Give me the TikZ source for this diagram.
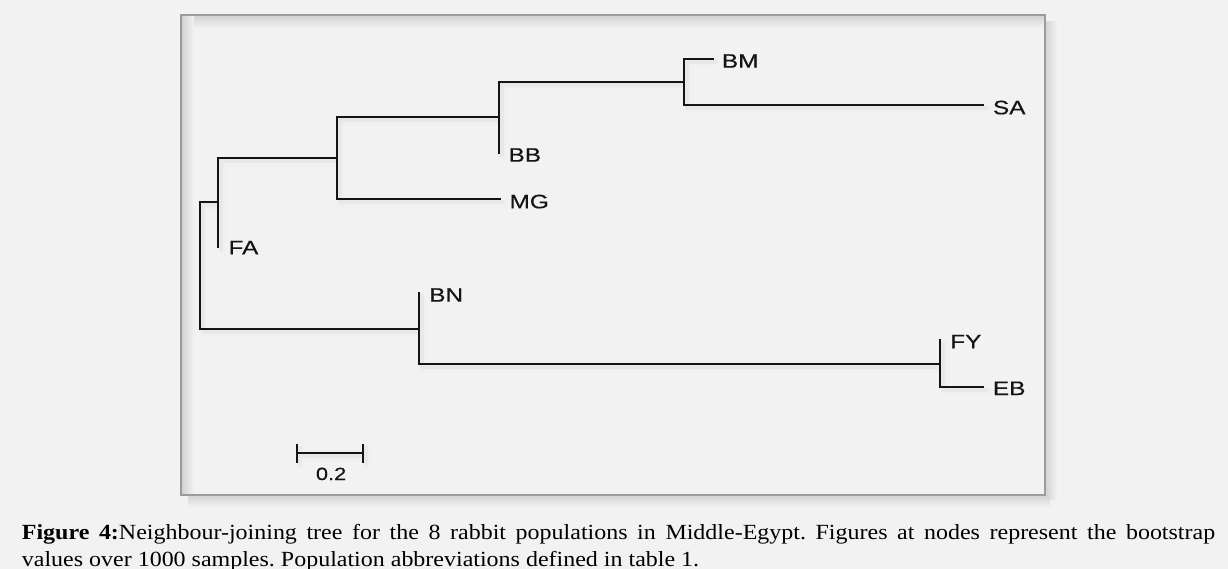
\documentclass[tikz,border=0pt]{standalone}
\usepackage{fontspec}
\setmainfont{Liberation Serif}
\newfontfamily\labfont[FakeBold=0.3]{Liberation Sans}
\definecolor{bg}{HTML}{F2F2F2}
\definecolor{framegray}{HTML}{9C9C9C}
\definecolor{shadowgray}{HTML}{D2D2D2}
\tikzset{
  branch/.style={line width=1.9pt, color=black!92, line cap=rect},
  shadowwide/.style={line width=7pt, color=black!6, line cap=round},
  shadowline/.style={line width=4pt, color=black!9, line cap=round},
  leaf/.style={anchor=base west, inner sep=0pt, font=\labfont\fontsize{19.5}{20}\selectfont, xscale=1.25, text=black!92},
  scalelab/.style={anchor=base west, inner sep=0pt, font=\labfont\fontsize{17.7}{18}\selectfont, xscale=1.23, text=black!92},
  captext/.style={anchor=base west, inner sep=0pt, font=\frenchspacing\fontsize{21.6}{26}\selectfont, xscale=1.11},
}
\newcommand\treepaths[1]{%
  \draw[#1] (r1) -- (r2);
  \draw[#1] (r1) -- (a);
  \draw[#1] (aT) -- (fa);
  \draw[#1] (aT) -- (bM);
  \draw[#1] (bT) -- (bB);
  \draw[#1] (bB) -- (mg);
  \draw[#1] (bT) -- (cM);
  \draw[#1] (cT) -- (bb);
  \draw[#1] (cT) -- (dM);
  \draw[#1] (dT) -- (dB);
  \draw[#1] (dT) -- (bm);
  \draw[#1] (dB) -- (sa);
  \draw[#1] (r2) -- (eM);
  \draw[#1] (bn) -- (eB);
  \draw[#1] (eB) -- (fM);
  \draw[#1] (fy) -- (fB);
  \draw[#1] (fB) -- (eb);
  \draw[#1] (s1) -- (s2);
  \draw[#1] (s1t) -- (s1b);
  \draw[#1] (s2t) -- (s2b);
}
\begin{document}
\begin{tikzpicture}[x=1pt,y=-1pt]
  \useasboundingbox (0,0) rectangle (1228,569);
  \fill[bg] (0,0) rectangle (1228,569);
  % outer shadow of frame
  \shade[left color=shadowgray, right color=bg] (1045,22) rectangle (1057,499);
  \shade[top color=shadowgray, bottom color=bg] (188,495) rectangle (1050,507);
  % frame
  \fill[bg] (181,15) rectangle (1045,495);
  \shade[top color=shadowgray, bottom color=bg] (181.5,15.5) rectangle (1044.5,28);
  \shade[left color=shadowgray, right color=bg] (181.5,15.5) rectangle (194,494.5);
  \draw[framegray, line width=1.2pt] (181,15) rectangle (1045,495);

  % tree coordinates
  \coordinate (r1) at (200.3,202.3);
  \coordinate (r2) at (200.3,328.7);
  \coordinate (a)  at (218.3,202.3);
  \coordinate (aT) at (218.3,158.3);
  \coordinate (fa) at (218.3,246.7);
  \coordinate (bM) at (337,158.3);
  \coordinate (bT) at (337,117.3);
  \coordinate (bB) at (337,199.3);
  \coordinate (mg) at (500,199.3);
  \coordinate (cM) at (498.7,117.3);
  \coordinate (cT) at (498.7,81.7);
  \coordinate (bb) at (498.7,152.7);
  \coordinate (dM) at (684,81.7);
  \coordinate (dT) at (684,59);
  \coordinate (dB) at (684,105.3);
  \coordinate (bm) at (712.7,59);
  \coordinate (sa) at (983.3,105.3);
  \coordinate (eM) at (418.7,328.7);
  \coordinate (bn) at (418.7,293.3);
  \coordinate (eB) at (418.7,364);
  \coordinate (fM) at (940,364);
  \coordinate (fy) at (940,340);
  \coordinate (fB) at (940,387);
  \coordinate (eb) at (983.3,387);
  % scale bar
  \coordinate (s1) at (297.3,453.3);
  \coordinate (s2) at (363.3,453.3);
  \coordinate (s1t) at (297.3,445);
  \coordinate (s1b) at (297.3,461.7);
  \coordinate (s2t) at (363.3,445);
  \coordinate (s2b) at (363.3,461.7);

  % soft shadows of branches
  \begin{scope}[transform canvas={shift={(4,4)}}]
    \treepaths{shadowwide}
  \end{scope}
  \begin{scope}[transform canvas={shift={(3,3)}}]
    \treepaths{shadowline}
  \end{scope}
  % branches
  \treepaths{branch}

  % leaf labels
  \node[leaf] (lBM) at (721.7,67.7) {BM};
  \node[leaf] (lSA) at (992.7,114.3) {SA};
  \node[leaf] (lBB) at (508.3,161.7) {BB};
  \node[leaf] (lMG) at (509.3,208.3) {MG};
  \node[leaf] (lFA) at (228.3,254.3) {FA};
  \node[leaf] (lBN) at (429,301.7) {BN};
  \node[leaf] (lFY) at (950,348.3) {FY};
  \node[leaf] (lEB) at (992.7,395) {EB};
  \node[scalelab] (lsc) at (315.7,480) {0.2};

  % caption
  \node[captext] (cap1) at (21.7,539.5) {\makebox[1075pt][s]{\textbf{Figure 4:}Neighbour-joining tree for the 8 rabbit populations in Middle-Egypt. Figures at nodes represent the bootstrap}};
  \node[captext] (cap2) at (21.7,566.3) {values over 1000 samples. Population abbreviations defined in table 1.};
\end{tikzpicture}
\end{document}
